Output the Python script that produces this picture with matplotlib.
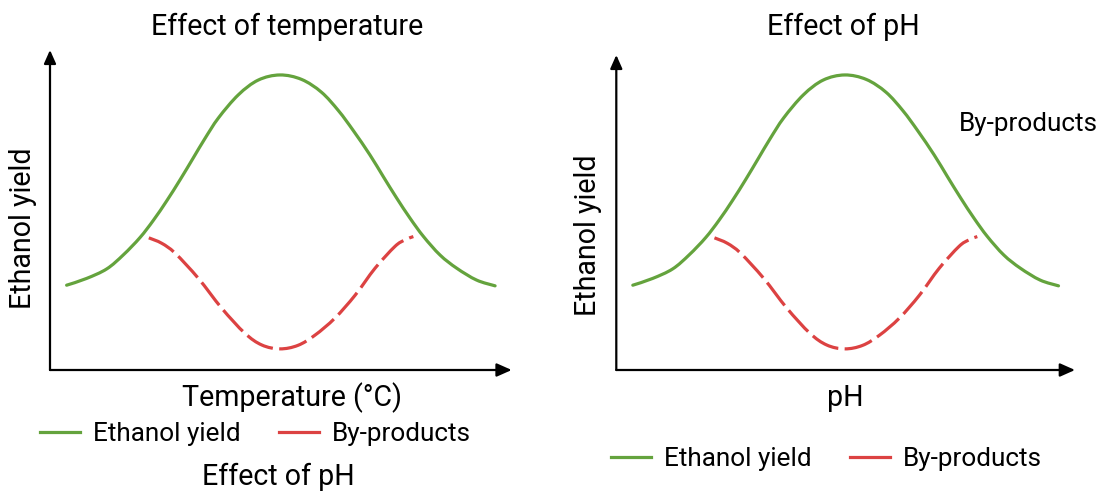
import matplotlib
matplotlib.use("Agg")
import matplotlib.pyplot as plt
from matplotlib.lines import Line2D
from matplotlib.path import Path
from matplotlib.patches import PathPatch

plt.rcParams['font.family'] = ['Roboto', 'DejaVu Sans']

# ---- data (arbitrary units 0-10) ----
green_x = [0.36, 0.79, 1.23, 1.59, 1.95, 2.24, 2.53, 2.82, 3.10, 3.35, 3.65, 4.08, 4.51,
           4.98, 5.45, 5.88, 6.25, 6.57, 6.93, 7.22, 7.51, 7.80, 8.09, 8.45, 8.81, 9.24, 9.64]
green_y = [2.65, 2.86, 3.16, 3.60, 4.14, 4.68, 5.29, 5.95, 6.62, 7.22, 7.88, 8.60, 9.06,
           9.22, 9.08, 8.68, 8.10, 7.48, 6.72, 6.04, 5.37, 4.74, 4.17, 3.59, 3.18, 2.81, 2.63]
red_x = [2.14, 2.42, 2.71, 3.21, 3.72, 4.22, 4.59, 4.98, 5.37, 5.74, 6.17, 6.61,
         7.04, 7.47, 7.68, 7.87]
red_y = [4.13, 3.96, 3.65, 2.87, 1.93, 1.15, 0.78, 0.66, 0.77, 1.09, 1.62, 2.34,
         3.18, 3.86, 4.06, 4.17]

series_labels = ["Ethanol yield", "By-products"]
panel_titles = ["Effect of temperature", "Effect of pH"]
x_labels = ["Temperature (°C)", "pH"]
y_label = "Ethanol yield"

GREEN = "#64a33d"
RED = "#dc4242"
W, H = 1096, 492
FS_BIG = 20.6
FS_LEG = 18.8

fig = plt.figure(figsize=(W / 100, H / 100), dpi=100)


def fx(px):
    return px / W


def fy(py):
    return 1 - py / H


def make_axes(x0, x1, y_bottom, y_top):
    return fig.add_axes([fx(x0), fy(y_bottom), fx(x1) - fx(x0), fy(y_top) - fy(y_bottom)])


def smooth_path(xs, ys):
    """Catmull-Rom curve through the given points, as cubic Bezier segments."""
    pts = list(zip(xs, ys))
    n = len(pts)
    verts = [pts[0]]
    codes = [Path.MOVETO]
    for i in range(n - 1):
        p0 = pts[i - 1] if i > 0 else pts[i]
        p1 = pts[i]
        p2 = pts[i + 1]
        p3 = pts[i + 2] if i + 2 < n else pts[i + 1]
        c1 = (p1[0] + (p2[0] - p0[0]) / 6, p1[1] + (p2[1] - p0[1]) / 6)
        c2 = (p2[0] - (p3[0] - p1[0]) / 6, p2[1] - (p3[1] - p1[1]) / 6)
        verts += [c1, c2, p2]
        codes += [Path.CURVE4] * 3
    return Path(verts, codes)


axes = [make_axes(50, 511.7, 370, 50), make_axes(616.3, 1075, 370, 50)]
arrow_top = [1.0, 315 / 320]

for i, ax in enumerate(axes):
    ax.set_xlim(0, 10)
    ax.set_ylim(0, 10)
    ax.set_xticks([])
    ax.set_yticks([])
    for s in ax.spines.values():
        s.set_visible(False)
    ax.patch.set_alpha(0)
    ast = '-|>,head_length=0.45,head_width=0.2'
    ax.annotate('', xy=(1, 0), xytext=(0, 0), xycoords='axes fraction',
                arrowprops=dict(arrowstyle=ast, lw=1.6, color='black',
                                mutation_scale=20, shrinkA=0, shrinkB=0))
    ax.annotate('', xy=(0, arrow_top[i]), xytext=(0, 0), xycoords='axes fraction',
                arrowprops=dict(arrowstyle=ast, lw=1.6, color='black',
                                mutation_scale=18, shrinkA=0, shrinkB=0))
    gp = PathPatch(smooth_path(green_x, green_y), fill=False, edgecolor=GREEN,
                   lw=2.3, capstyle='round', joinstyle='round', clip_on=False)
    ax.add_patch(gp)
    rp = PathPatch(smooth_path(red_x, red_y), fill=False, edgecolor=RED,
                   lw=2.3, linestyle=(0, (9.0, 2.0)), capstyle='butt',
                   joinstyle='round', clip_on=False)
    ax.add_patch(rp)

# titles
fig.text(fx(287), fy(27), panel_titles[0], ha='center', va='center', fontsize=FS_BIG)
fig.text(fx(843), fy(27), panel_titles[1], ha='center', va='center', fontsize=FS_BIG)
# axis labels
fig.text(fx(291.6), fy(398), x_labels[0], ha='center', va='center', fontsize=FS_BIG)
fig.text(fx(845.7), fy(398), x_labels[1], ha='center', va='center', fontsize=FS_BIG)
fig.text(fx(22.8), fy(228), y_label, ha='center', va='center', rotation=90, fontsize=FS_BIG)
fig.text(fx(588.3), fy(235), y_label, ha='center', va='center', rotation=90, fontsize=FS_BIG)
# stray labels
fig.text(fx(958.5), fy(124), series_labels[1], ha='left', va='center', fontsize=FS_LEG)
fig.text(fx(278.5), fy(476.7), panel_titles[1], ha='center', va='center', fontsize=FS_BIG)

# legends
handles = [Line2D([], [], color=GREEN, lw=2.3),
           Line2D([], [], color=RED, lw=2.3)]
for (lx, ly) in [(40, 434), (611, 459)]:
    fig.legend(handles, series_labels, loc='center left',
               bbox_to_anchor=(fx(lx), fy(ly)), ncol=2, frameon=False,
               fontsize=FS_LEG, handlelength=1.54, handletextpad=0.49,
               columnspacing=1.48, borderpad=0, borderaxespad=0)

fig.savefig("out.png", dpi=100)
